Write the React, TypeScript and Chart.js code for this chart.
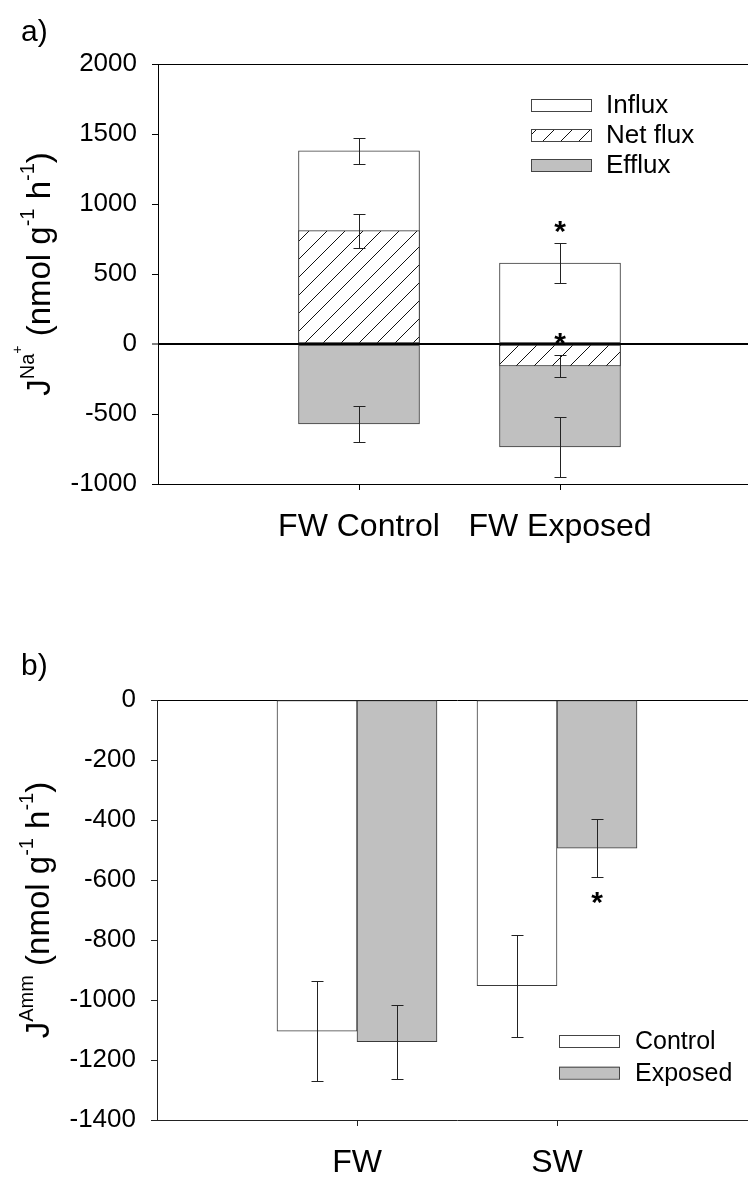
import React, { useEffect, useRef } from 'react';
import { Chart, registerables } from 'chart.js';

Chart.register(...registerables);

const FONT = "'Liberation Sans', Arial, Helvetica, sans-serif";
const GRAY = '#c0c0c0';
const EDGE = '#3a3a3a';

// ---------- Panel a: Na+ fluxes ----------
const CATS_A = ['FW Control', 'FW Exposed'];
const INFLUX = [1380, 578];
const INFLUX_ERR = [94, 144];
const NETFLUX = [810, -157];
const NETFLUX_ERR = [122, 77];
const EFFLUX = [-570, -735];
const EFFLUX_ERR = [130, 214];
const TICKS_A = [-1000, -500, 0, 500, 1000, 1500, 2000];
const SIG_A = [
  { series: 'Influx', index: 1, side: 'above' },
  { series: 'Net flux', index: 1, side: 'above' },
];
const YTITLE_A: [string, number][] = [
  ['J', 0], ['Na', 1], ['+', 2], [' (nmol g', 0], ['-1', 1], [' h', 0], ['-1', 1], [')', 0],
];

// ---------- Panel b: ammonia fluxes ----------
const CATS_B = ['FW', 'SW'];
const CONTROL = [-1104, -952];
const CONTROL_ERR = [167, 170];
const EXPOSED = [-1139, -494];
const EXPOSED_ERR = [123, 97];
const TICKS_B = [-1400, -1200, -1000, -800, -600, -400, -200, 0];
const SIG_B = [{ series: 'Exposed', index: 1, side: 'below' }];
const YTITLE_B: [string, number][] = [
  ['J', 0], ['Amm', 1], [' (nmol g', 0], ['-1', 1], [' h', 0], ['-1', 1], [')', 0],
];

function makeHatch() {
  const c = document.createElement('canvas');
  c.width = 18;
  c.height = 18;
  const g = c.getContext('2d')!;
  g.fillStyle = '#ffffff';
  g.fillRect(0, 0, 18, 18);
  g.strokeStyle = '#111';
  g.lineWidth = 1;
  g.beginPath();
  g.moveTo(-1, 19);
  g.lineTo(19, -1);
  g.moveTo(-2, 2);
  g.lineTo(2, -2);
  g.moveTo(16, 20);
  g.lineTo(20, 16);
  g.stroke();
  return g.createPattern(c, 'repeat');
}

const pts = (arr: number[]) => arr.map((v, i) => ({ x: i + 1, y: v }));

function errorBarPlugin() {
  return {
    id: 'errorBars',
    afterDatasetsDraw(chart: any) {
      const ctx = chart.ctx;
      const ys = chart.scales.y;
      chart.data.datasets.forEach((ds: any, di: number) => {
        if (!ds.errors) return;
        const meta = chart.getDatasetMeta(di);
        meta.data.forEach((el: any, i: number) => {
          const v = ds.data[i].y;
          const e = ds.errors[i];
          const t = Math.round(ys.getPixelForValue(v + e)) + 0.5;
          const b = Math.round(ys.getPixelForValue(v - e)) + 0.5;
          const x = Math.round(el.x) + 0.5;
          ctx.save();
          ctx.strokeStyle = '#222';
          ctx.lineWidth = 1;
          ctx.beginPath();
          ctx.moveTo(x, t);
          ctx.lineTo(x, b);
          ctx.moveTo(x - 6, t);
          ctx.lineTo(x + 6, t);
          ctx.moveTo(x - 6, b);
          ctx.lineTo(x + 6, b);
          ctx.stroke();
          ctx.restore();
        });
      });
    },
  };
}

function starPlugin(sig: { series: string; index: number; side: string }[]) {
  return {
    id: 'stars',
    afterDraw(chart: any) {
      const ctx = chart.ctx;
      const ys = chart.scales.y;
      sig.forEach((s) => {
        const di = chart.data.datasets.findIndex((d: any) => d.label === s.series);
        const ds = chart.data.datasets[di];
        const el = chart.getDatasetMeta(di).data[s.index];
        const v = ds.data[s.index].y;
        const e = ds.errors[s.index];
        const cy = s.side === 'above' ? ys.getPixelForValue(v + e) - 16 : ys.getPixelForValue(v - e) + 21;
        ctx.save();
        ctx.font = `bold 30px ${FONT}`;
        ctx.fillStyle = '#000';
        ctx.textAlign = 'center';
        ctx.textBaseline = 'alphabetic';
        const m = ctx.measureText('*');
        const base = cy + (m.actualBoundingBoxAscent - m.actualBoundingBoxDescent) / 2;
        ctx.fillText('*', el.x, base);
        ctx.restore();
      });
    },
  };
}

function legendPlugin(o: { x: number; y: number; rowH: number; boxW: number; boxH: number; gap: number; size: number }) {
  return {
    id: 'boxLegend',
    afterDraw(chart: any) {
      const ctx = chart.ctx;
      chart.data.datasets.forEach((ds: any, i: number) => {
        const top = o.y + i * o.rowH;
        ctx.save();
        ctx.fillStyle = ds.backgroundColor;
        ctx.fillRect(o.x, top, o.boxW, o.boxH);
        ctx.strokeStyle = '#444';
        ctx.lineWidth = 1;
        ctx.strokeRect(o.x + 0.5, top + 0.5, o.boxW, o.boxH);
        ctx.fillStyle = '#000';
        ctx.font = `${o.size}px ${FONT}`;
        ctx.textAlign = 'left';
        ctx.textBaseline = 'middle';
        ctx.fillText(ds.label, o.x + o.boxW + o.gap, top + o.boxH / 2 + 1);
        ctx.restore();
      });
    },
  };
}

function yTitlePlugin(parts: [string, number][], x: number) {
  const sizes = [33, 20, 14];
  const raise = [0, 16, 28];
  return {
    id: 'yTitle',
    afterDraw(chart: any) {
      const ctx = chart.ctx;
      const ca = chart.chartArea;
      const cy = (ca.top + ca.bottom) / 2;
      ctx.save();
      ctx.fillStyle = '#000';
      ctx.textBaseline = 'alphabetic';
      ctx.textAlign = 'left';
      let total = 0;
      const widths = parts.map(([t, l]) => {
        ctx.font = `${sizes[l]}px ${FONT}`;
        const w = ctx.measureText(t).width;
        total += w;
        return w;
      });
      ctx.translate(x, cy);
      ctx.rotate(-Math.PI / 2);
      let px = -total / 2;
      parts.forEach(([t, l], i) => {
        ctx.font = `${sizes[l]}px ${FONT}`;
        ctx.fillText(t, px, -raise[l]);
        px += widths[i];
      });
      ctx.restore();
    },
  };
}

function panelLabelPlugin(text: string, x: number, y: number) {
  return {
    id: 'panelLabel',
    afterDraw(chart: any) {
      const ctx = chart.ctx;
      ctx.save();
      ctx.font = `30px ${FONT}`;
      ctx.fillStyle = '#000';
      ctx.textAlign = 'left';
      ctx.textBaseline = 'alphabetic';
      ctx.fillText(text, x, y);
      ctx.restore();
    },
  };
}

function axes(cats: string[], ticks: number[], yWidth: number, xHeight: number, zeroWidth: number, lineColor: string) {
  const maxT = ticks[ticks.length - 1];
  return {
    x: {
      type: 'linear',
      min: 0,
      max: cats.length + 1,
      offset: false,
      afterBuildTicks: (s: any) => {
        s.ticks = cats.map((_, i) => ({ value: i + 1 }));
      },
      afterFit: (s: any) => {
        s.height = xHeight;
      },
      ticks: {
        autoSkip: false,
        maxRotation: 0,
        minRotation: 0,
        padding: 18,
        color: '#000',
        font: { family: FONT, size: 32 },
        callback: (v: number) => cats[v - 1] ?? '',
      },
      grid: { offset: false, drawOnChartArea: false, color: lineColor, tickLength: 6, tickWidth: 1 },
      border: { display: true, color: lineColor, width: 1 },
    },
    y: {
      type: 'linear',
      min: ticks[0],
      max: maxT,
      z: 1,
      afterBuildTicks: (s: any) => {
        s.ticks = ticks.map((v) => ({ value: v }));
      },
      afterFit: (s: any) => {
        s.width = yWidth;
      },
      ticks: {
        autoSkip: false,
        padding: 15,
        color: '#000',
        font: { family: FONT, size: 26 },
        callback: (v: number) => String(v),
      },
      grid: {
        drawOnChartArea: true,
        offset: false,
        color: (c: any) => (c.tick && (c.tick.value === 0 || c.tick.value === maxT) ? '#000' : 'rgba(0,0,0,0)'),
        lineWidth: (c: any) => (c.tick && c.tick.value === 0 ? zeroWidth : 1),
        tickColor: lineColor,
        tickWidth: 1,
        tickLength: 6,
      },
      border: { display: true, color: lineColor, width: 1 },
    },
  };
}

function buildA(): any {
  const hatch = makeHatch();
  return {
    type: 'bar',
    data: {
      datasets: [
        { label: 'Influx', data: pts(INFLUX), errors: INFLUX_ERR, backgroundColor: '#ffffff', order: 2 },
        { label: 'Net flux', data: pts(NETFLUX), errors: NETFLUX_ERR, backgroundColor: hatch, order: 0 },
        { label: 'Efflux', data: pts(EFFLUX), errors: EFFLUX_ERR, backgroundColor: GRAY, order: 1 },
      ],
    },
    options: {
      animation: false,
      responsive: false,
      devicePixelRatio: 1,
      layout: { padding: { left: 0, right: 19, top: 64, bottom: 6 } },
      datasets: {
        bar: { grouped: false, barThickness: 121, borderColor: EDGE, borderWidth: 1, borderSkipped: false },
      },
      plugins: { legend: { display: false }, tooltip: { enabled: false } },
      scales: axes(CATS_A, TICKS_A, 158, 90, 2, '#000'),
    },
    plugins: [
      errorBarPlugin(),
      starPlugin(SIG_A),
      legendPlugin({ x: 531, y: 99, rowH: 30, boxW: 60, boxH: 12, gap: 15, size: 26 }),
      yTitlePlugin(YTITLE_A, 50),
      panelLabelPlugin('a)', 21, 41),
    ],
  };
}

function buildB(): any {
  return {
    type: 'bar',
    data: {
      datasets: [
        { label: 'Control', data: pts(CONTROL), errors: CONTROL_ERR, backgroundColor: '#ffffff' },
        { label: 'Exposed', data: pts(EXPOSED), errors: EXPOSED_ERR, backgroundColor: GRAY },
      ],
    },
    options: {
      animation: false,
      responsive: false,
      devicePixelRatio: 1,
      layout: { padding: { left: 0, right: 23, top: 120, bottom: 0 } },
      datasets: {
        bar: { grouped: true, barThickness: 80, borderColor: EDGE, borderWidth: 1, borderSkipped: false },
      },
      plugins: { legend: { display: false }, tooltip: { enabled: false } },
      scales: axes(CATS_B, TICKS_B, 157, 57, 1, '#222'),
    },
    plugins: [
      errorBarPlugin(),
      starPlugin(SIG_B),
      legendPlugin({ x: 559, y: 455, rowH: 31.7, boxW: 60, boxH: 12, gap: 16, size: 25 }),
      yTitlePlugin(YTITLE_B, 49),
      panelLabelPlugin('b)', 21, 95),
    ],
  };
}

function ChartCanvas({ build, width, height, top }: { build: () => any; width: number; height: number; top: number }) {
  const ref = useRef<HTMLCanvasElement>(null);
  useEffect(() => {
    const chart = new Chart(ref.current as HTMLCanvasElement, build());
    return () => chart.destroy();
  }, [build]);
  return (
    <canvas
      ref={ref}
      width={width}
      height={height}
      style={{ position: 'absolute', left: 0, top, display: 'block', width, height }}
    />
  );
}

export default function App() {
  return (
    <div
      style={{
        position: 'absolute',
        left: 0,
        top: 0,
        width: 748,
        height: 1177,
        overflow: 'hidden',
        background: '#ffffff',
      }}
    >
      <ChartCanvas build={buildA} width={780} height={580} top={0} />
      <ChartCanvas build={buildB} width={780} height={597} top={580} />
    </div>
  );
}
